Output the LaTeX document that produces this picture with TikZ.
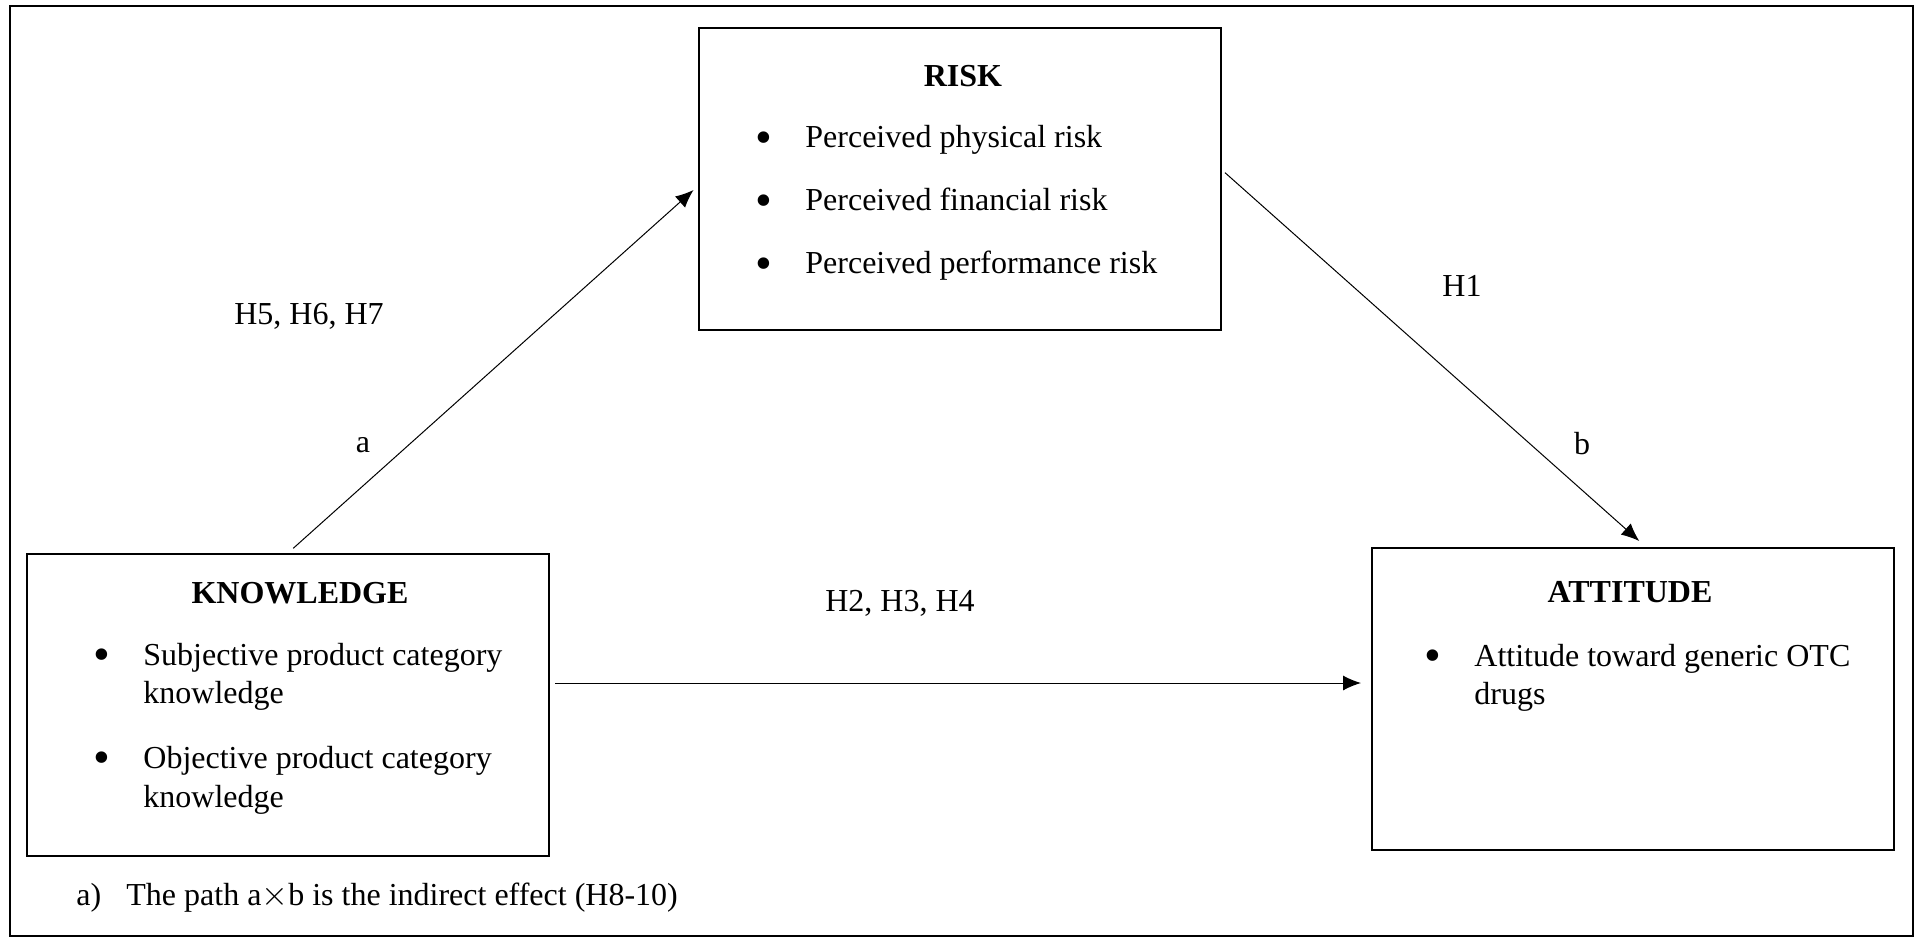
\documentclass[tikz,border=0pt]{standalone}
\usepackage{fontspec}
\setmainfont{Liberation Serif}
\usetikzlibrary{arrows.meta}
\tikzstyle{box} = [rectangle, draw=black, line width=1pt, minimum width=261pt, minimum height=151pt, inner sep=0pt]
\tikzstyle{txt} = [inner sep=0pt, anchor=base west]
\tikzstyle{lbl} = [inner sep=0pt, anchor=base]
\tikzstyle{dot} = [inner sep=0pt, anchor=center, font=\fontsize{24}{24}\selectfont]
\tikzstyle{arrow} = [line width=0.5pt, -{Latex[length=9pt,width=7.5pt]}]

\begin{document}
\begin{tikzpicture}[x=0.5pt, y=-0.5pt, font=\fontsize{16}{19}\selectfont]
        \useasboundingbox (0,0) rectangle (1917,941);
        \draw[line width=1.2pt] (10,6) rectangle (1913,936);

        \node (risk) [box] at (960,179) {};
        \node (know) [box] at (288,705) {};
        \node (att) [box] at (1633,699) {};

        \node (risktitle) [lbl] at (963,87) {\textbf{RISK}};
        \node (riskb1) [dot] at (764,143) {\textbullet};
        \node (risk1) [txt] at (805,148) {Perceived physical risk};
        \node (riskb2) [dot] at (764,206) {\textbullet};
        \node (risk2) [txt] at (805,211) {Perceived financial risk};
        \node (riskb3) [dot] at (764,269) {\textbullet};
        \node (risk3) [txt] at (805,274) {Perceived performance risk};

        \node (knowtitle) [lbl] at (300,603) {\textbf{KNOWLEDGE}};
        \node (knowb1) [dot] at (102,660) {\textbullet};
        \node (know1) [txt] at (143,665) {Subjective product category};
        \node (know1b) [txt] at (143,703) {knowledge};
        \node (knowb2) [dot] at (102,763) {\textbullet};
        \node (know2) [txt] at (143,768) {Objective product category};
        \node (know2b) [txt] at (143,807) {knowledge};

        \node (atttitle) [lbl] at (1630,602) {\textbf{ATTITUDE}};
        \node (attb1) [dot] at (1433,661) {\textbullet};
        \node (att1) [txt] at (1474,666) {Attitude toward generic OTC};
        \node (att1b) [txt] at (1474,704) {drugs};

        \coordinate (hstart) at ([yshift=11pt]know.east);
        \draw[arrow, shorten <=3.5pt, shorten >=3pt] (know.north) -- ([yshift=-3.5pt]risk.west);
        \draw[arrow, shorten <=2pt, shorten >=4.5pt] ([yshift=4.5pt]risk.east) -- ([xshift=6.5pt]att.north);
        \draw[arrow, shorten <=2.5pt, shorten >=5pt] (hstart) -- (hstart -| att.west);

        \node (h567) [lbl] at (309,325) {H5, H6, H7};
        \node (la) [lbl] at (363,452) {a};
        \node (h1) [lbl] at (1462,297) {H1};
        \node (lb) [lbl] at (1582,454) {b};
        \node (h234) [lbl] at (900,611) {H2, H3, H4};

        \node (notea) [txt] at (76,905) {a)};
        \node (note) [txt] at (126,905) {The path a$\times$b is the indirect effect (H8-10)};
    \end{tikzpicture}
\end{document}
